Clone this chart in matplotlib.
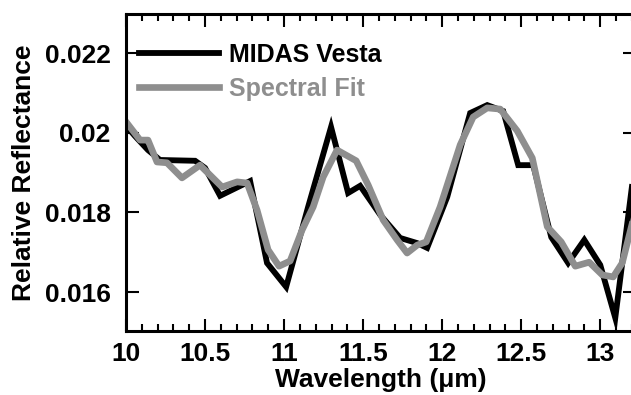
import matplotlib
matplotlib.use("Agg")
import matplotlib.pyplot as plt
from matplotlib.ticker import MultipleLocator, FuncFormatter

plt.rcParams['font.family'] = ['Liberation Sans', 'DejaVu Sans']
plt.rcParams['font.weight'] = 'bold'

# MIDAS Vesta spectrum
vesta_wl = [10.00, 10.057, 10.139, 10.215, 10.437, 10.50, 10.595, 10.785, 10.892, 11.013,
            11.152, 11.297, 11.405, 11.481, 11.608, 11.734, 11.842, 11.905, 12.032, 12.177,
            12.285, 12.386, 12.481, 12.576, 12.690, 12.797, 12.899, 13.00, 13.095, 13.20]
vesta_refl = [0.02018, 0.01992, 0.01957, 0.01932, 0.01930, 0.01912, 0.01842, 0.01879, 0.01673, 0.01613,
              0.01814, 0.02015, 0.01849, 0.01867, 0.01794, 0.01736, 0.01723, 0.01711, 0.01839, 0.02050,
              0.02070, 0.02055, 0.01919, 0.01919, 0.01738, 0.01673, 0.01731, 0.01668, 0.01535, 0.01864]

# spectral fit
fit_wl = [10.00, 10.089, 10.139, 10.196, 10.259, 10.354, 10.468, 10.608, 10.703, 10.766,
          10.829, 10.899, 10.968, 11.038, 11.114, 11.184, 11.247, 11.335, 11.456, 11.532,
          11.627, 11.715, 11.778, 11.842, 11.899, 11.987, 12.114, 12.196, 12.285, 12.367,
          12.475, 12.570, 12.665, 12.753, 12.842, 12.930, 13.013, 13.082, 13.139, 13.20]
fit_refl = [0.02028, 0.01982, 0.01982, 0.01927, 0.01925, 0.01887, 0.01919, 0.01864, 0.01877, 0.01874,
            0.01806, 0.01706, 0.01665, 0.01678, 0.01756, 0.01814, 0.01889, 0.01957, 0.01930, 0.01869,
            0.01781, 0.01731, 0.01698, 0.01718, 0.01726, 0.01814, 0.01970, 0.02040, 0.02063, 0.02060,
            0.02005, 0.01937, 0.01764, 0.01726, 0.01665, 0.01675, 0.01643, 0.01638, 0.01673, 0.01769]

yticks = [0.016, 0.018, 0.020, 0.022]
xticks = [10, 10.5, 11, 11.5, 12, 12.5, 13]

fig = plt.figure(figsize=(6.31, 3.95), dpi=100)
ax = fig.add_axes([0.1997, 0.162, 0.8067, 0.8025])

ax.plot(vesta_wl, vesta_refl, color='black', lw=4.2, label='MIDAS Vesta', solid_joinstyle='miter')
ax.plot(fit_wl, fit_refl, color='#8e8e8e', lw=4.8, label='Spectral Fit')

ax.set_xlim(10, 13.22)
ax.set_ylim(0.01502, 0.02299)
ax.set_xticks(xticks)
ax.set_yticks(yticks)
ax.xaxis.set_minor_locator(MultipleLocator(0.1))
fmt = FuncFormatter(lambda v, p: '%g' % v)
ax.xaxis.set_major_formatter(fmt)
ax.yaxis.set_major_formatter(fmt)

for s in ax.spines.values():
    s.set_linewidth(2.2)
ax.tick_params(which='both', direction='in', top=True, right=True, width=1.5)
ax.tick_params(which='major', length=9, labelsize=19)
ax.tick_params(axis='x', which='major', pad=8)
ax.tick_params(axis='y', which='major', pad=11)
ax.tick_params(which='minor', length=5)

ax.set_xlabel('Wavelength (\u03bcm)', fontsize=19, fontweight='bold', labelpad=1)
ax.set_ylabel('Relative Reflectance', fontsize=19, fontweight='bold', labelpad=6)

leg = ax.legend(loc='upper left', bbox_to_anchor=(0.026, 0.91), frameon=False,
                fontsize=18, handlelength=3.2, handletextpad=0.4, labelspacing=0.42,
                borderpad=0, borderaxespad=0, labelcolor='linecolor')
for t in leg.get_texts():
    t.set_fontweight('bold')

fig.savefig('out.png', dpi=100)
